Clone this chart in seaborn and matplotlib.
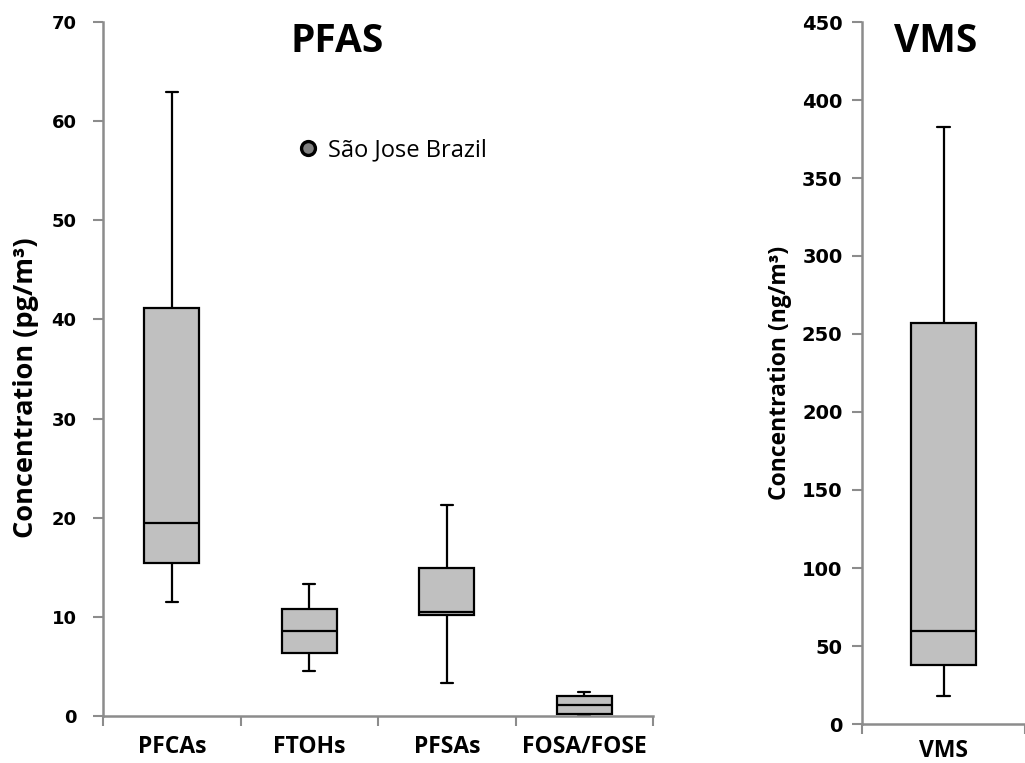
import pandas as pd
import seaborn as sns
import matplotlib.pyplot as plt
from matplotlib.lines import Line2D

# five-number summaries: min, q1, median, q3, max
pfas_groups = ['PFCAs', 'FTOHs', 'PFSAs', 'FOSA/FOSE']
pfcas = [11.5, 15.4, 19.5, 41.2, 62.9]
ftohs = [4.5, 6.4, 8.6, 10.8, 13.3]
pfsas = [3.3, 10.2, 10.5, 14.9, 21.3]
fosa_fose = [0.1, 0.2, 1.1, 2.0, 2.4]
vms_groups = ['VMS']
vms = [18.1, 38.0, 59.8, 256.9, 382.5]

pfas_yticks = [0, 10, 20, 30, 40, 50, 60, 70]
vms_yticks = [0, 50, 100, 150, 200, 250, 300, 350, 400, 450]

# long-form tables (5 points each -> quartiles land exactly on the values)
pfas_df = pd.DataFrame({
    'group': [g for g, v in zip(pfas_groups, [pfcas, ftohs, pfsas, fosa_fose]) for _ in v],
    'value': pfcas + ftohs + pfsas + fosa_fose,
})
vms_df = pd.DataFrame({'group': ['VMS'] * len(vms), 'value': vms})

sns.set_style('white')
plt.rcParams['font.family'] = ['Open Sans', 'DejaVu Sans']
plt.rcParams['text.color'] = 'black'
plt.rcParams['axes.labelcolor'] = 'black'
plt.rcParams['xtick.color'] = 'black'
plt.rcParams['ytick.color'] = 'black'

fig = plt.figure(figsize=(10.25, 7.63), dpi=100)
ax1 = fig.add_axes([103 / 1025, 1 - 716 / 763, 550 / 1025, 694 / 763])
ax2 = fig.add_axes([862 / 1025, 1 - 724 / 763, 163 / 1025, 702 / 763])

box_kw = dict(x='group', y='value', color='#c0c0c0', saturation=1, width=0.4,
              whis=(0, 100), linewidth=1.6, linecolor='black', fliersize=0)

sns.boxplot(data=pfas_df, ax=ax1, order=pfas_groups, capwidths=0.09, **box_kw)
sns.boxplot(data=vms_df, ax=ax2, order=vms_groups, capwidths=0.08, **box_kw)

spine_col = '#8c8c8c'
for ax, yt, ymax, n, tick_fs, pad, xpad in [(ax1, pfas_yticks, 70, 4, 13, 12, 14),
                                            (ax2, vms_yticks, 450, 1, 14, 7, 11)]:
    ax.set_ylim(0, ymax)
    ax.set_xlim(-0.5, n - 0.5)
    ax.set_yticks(yt)
    ax.set_yticklabels([str(t) for t in yt], fontfamily='DejaVu Sans',
                       fontweight='bold', fontsize=tick_fs)
    ax.set_xticks(range(n))
    ax.set_xticks([i - 0.5 for i in range(n + 1)], minor=True)
    ax.tick_params(axis='x', which='major', length=0, pad=xpad, labelsize=16.5)
    ax.tick_params(axis='x', which='minor', length=7, width=1.5, color=spine_col,
                   direction='out', bottom=True)
    ax.tick_params(axis='y', length=7, width=1.5, color=spine_col,
                   direction='out', left=True, pad=pad)
    for lab in ax.get_xticklabels():
        lab.set_fontweight('bold')
    ax.set_xlabel('')
    for s in ['top', 'right']:
        ax.spines[s].set_visible(False)
    for s in ['left', 'bottom']:
        ax.spines[s].set_color(spine_col)
        ax.spines[s].set_linewidth(1.8)
    ax.set_facecolor('none')

ax1.set_ylabel('Concentration (pg/m³)', fontsize=19.5, fontweight='bold', labelpad=9)
ax1.yaxis.label.set_y(0.473)
ax2.set_ylabel('Concentration (ng/m³)', fontsize=16.5, fontweight='bold', labelpad=7)

fig.text(337 / 1025, 1 - 42 / 763, 'PFAS', fontsize=28, fontweight='bold',
         ha='center', va='center')
fig.text(936 / 1025, 1 - 42 / 763, 'VMS', fontsize=28, fontweight='bold',
         ha='center', va='center')

handle = Line2D([], [], marker='o', linestyle='none', markersize=10,
                markerfacecolor='#808080', markeredgecolor='black', markeredgewidth=2.4)
ax1.legend([handle], ['São Jose Brazil'], loc='center left',
           bbox_to_anchor=(172 / 550, 1 - 128 / 694), frameon=False, fontsize=17,
           handletextpad=0.35, handlelength=1.0)

fig.savefig('out.png', dpi=100)
